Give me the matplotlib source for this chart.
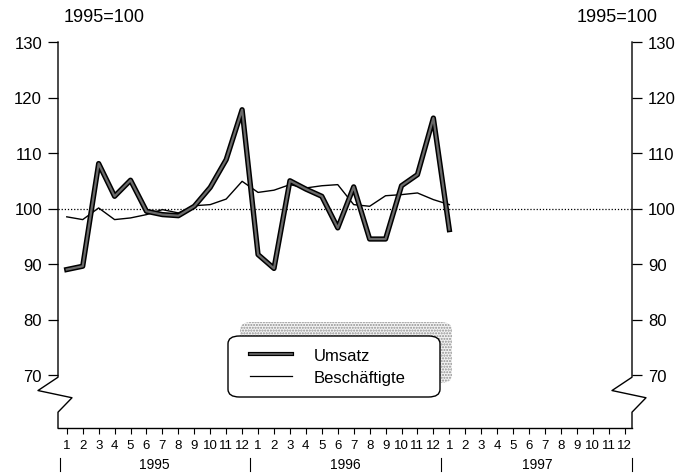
import numpy as np
import matplotlib
matplotlib.use("Agg")
import matplotlib.pyplot as plt
import matplotlib.transforms as mtransforms
import matplotlib.patheffects as pe
from matplotlib.patches import FancyBboxPatch
from matplotlib.lines import Line2D

plt.rcParams['font.family'] = ['Liberation Sans', 'DejaVu Sans']

years = ['1995', '1996', '1997']
month_labels = [str(m) for m in range(1, 13)] * 3
y_ticks = [70, 80, 90, 100, 110, 120, 130]

# Index 1995 = 100, monthly values Jan 1995 .. Jan 1997
umsatz = [89.0, 89.6, 108.1, 102.2, 105.1, 99.5, 98.9, 98.7, 100.4, 103.8, 108.8, 117.8,
          91.7, 89.2, 105.0, 103.5, 102.2, 96.5, 103.9, 94.5, 94.5, 104.1, 106.1, 116.3,
          96.2]
beschaeftigte = [98.5, 98.0, 100.1, 98.0, 98.3, 98.9, 99.8, 99.2, 100.5, 100.7, 101.7, 104.9,
                 102.9, 103.3, 104.3, 103.7, 104.1, 104.3, 100.7, 100.4, 102.3, 102.5, 102.8, 101.6,
                 100.7]

W, H = 684, 477
fig = plt.figure(figsize=(W / 100, H / 100), dpi=100)
ax_l, ax_r, ax_t, ax_b = 58, 632, 43, 429
ax = fig.add_axes([ax_l / W, 1 - ax_b / H, (ax_r - ax_l) / W, (ax_b - ax_t) / H])
ax_w = ax_r - ax_l

ymin = 130 - (ax_b - ax_t) / 5.55
ax.set_ylim(ymin, 130)
ax.set_xlim(-0.55, 35.46)

for s in ['left', 'right', 'top']:
    ax.spines[s].set_visible(False)
ax.spines['bottom'].set_linewidth(1.0)

x_u = np.arange(len(umsatz))
x_b = np.arange(len(beschaeftigte))

ax.axhline(100, color='black', lw=0.9, ls=(0, (1, 1.5)), zorder=1)
ax.plot(x_b, beschaeftigte, color='black', lw=1.0, zorder=3)
thick_fx = [pe.Stroke(linewidth=3.8, foreground='black'), pe.Normal()]
ax.plot(x_u, umsatz, color='#6a6a6a', lw=1.6, zorder=4, path_effects=thick_fx)

# y axes with a break at the bottom
blend = mtransforms.blended_transform_factory(ax.transAxes, ax.transData)
for x0 in [0.0, 1.0]:
    xs = [x0, x0, x0 - 20 / ax_w, x0 + 14 / ax_w, x0, x0]
    ys = [130, 69.6, 67.2, 65.9, 63.3, ymin]
    ax.plot(xs, ys, color='black', lw=1.0, transform=blend, clip_on=False)

ax.set_yticks(y_ticks)
ax.yaxis.set_ticks_position('both')
ax.tick_params(axis='y', direction='out', length=7, width=0.9, labelsize=12,
               left=True, right=True, labelleft=True, labelright=True, pad=4.5)

ax.set_xticks(np.arange(36))
ax.set_xticklabels(month_labels)
ax.tick_params(axis='x', direction='out', length=4, width=0.8, labelsize=9.5, pad=4)

# year labels and separators
blend_x = mtransforms.blended_transform_factory(ax.transData, ax.transAxes)
for i, yr in enumerate(years):
    ax.text(i * 12 + 5.5, -0.093, yr, transform=blend_x, ha='center', va='center', fontsize=10)
for xs in [-0.45, 11.5, 23.5, 35.45]:
    ax.plot([xs, xs], [-0.078, -0.112], color='black', lw=0.8, transform=blend_x, clip_on=False)

fig.text(104 / W, 1 - 17 / H, '1995=100', ha='center', va='center', fontsize=13)
fig.text(617 / W, 1 - 17 / H, '1995=100', ha='center', va='center', fontsize=13)

# legend box with stippled shadow
bx, by, bw, bh = (228 - ax_l) / ax_w, (ax_b - 398) / 386, 212 / ax_w, 61 / 386
shadow = FancyBboxPatch((bx + 12 / ax_w, by + 14 / 386), bw, bh,
                        boxstyle='round,pad=0,rounding_size=0.02', transform=ax.transAxes,
                        facecolor='#f4f4f4', edgecolor='#909090', hatch='......', lw=0, zorder=5)
box = FancyBboxPatch((bx, by), bw, bh, boxstyle='round,pad=0,rounding_size=0.02',
                     transform=ax.transAxes, facecolor='white', edgecolor='black', lw=1.0, zorder=6)
ax.add_patch(shadow)
ax.add_patch(box)

handles = [Line2D([], [], color='#6a6a6a', lw=1.2,
                  path_effects=[pe.Stroke(linewidth=3.0, foreground='black'), pe.Normal()]),
           Line2D([], [], color='black', lw=0.9)]
leg = ax.legend(handles, ['Umsatz', 'Beschäftigte'], loc='center left',
                bbox_to_anchor=(bx + 14 / ax_w, by + bh / 2), frameon=False, fontsize=12,
                handlelength=2.5, handletextpad=1.3, labelspacing=0.45, borderpad=0)
leg.set_zorder(7)

fig.savefig('out.png', dpi=100)
